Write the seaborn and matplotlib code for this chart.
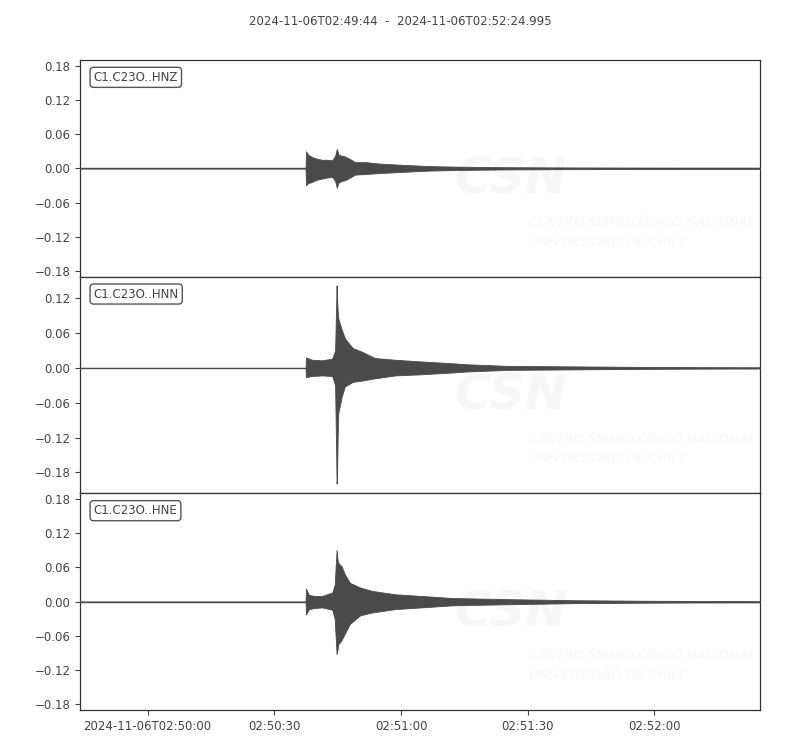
import numpy as np
import matplotlib
matplotlib.use("Agg")
from matplotlib import pyplot as plt
import seaborn as sns

# seconds after 2024-11-06T02:49:44, envelope
channels = ["C1.C23O..HNZ", "C1.C23O..HNN", "C1.C23O..HNE"]

hnz_t = [0, 53.4, 53.5, 54.0, 54.9, 56.0, 57.3, 58.5, 59.7, 60.4, 60.8, 61.2, 62.0, 62.7,
         64.0, 65.1, 67.5, 71.5, 76.9, 82.4, 88.8, 99.4, 113.6, 127.8, 145.0, 161.0]
hnz_up = [0, 0, 0.030, 0.024, 0.020, 0.017, 0.015, 0.015, 0.014, 0.022, 0.034, 0.024, 0.022,
          0.021, 0.016, 0.011, 0.011, 0.008, 0.006, 0.004, 0.003, 0.002, 0.0015, 0.0012, 0.001, 0.001]
hnz_lo = [0, 0, -0.030, -0.026, -0.024, -0.020, -0.018, -0.016, -0.015, -0.022, -0.034, -0.025,
          -0.022, -0.021, -0.016, -0.011, -0.010, -0.008, -0.006, -0.004, -0.003, -0.002, -0.0015,
          -0.0012, -0.001, -0.001]

hnn_t = [0, 53.4, 53.5, 54.9, 57.3, 59.7, 60.4, 60.75, 60.85, 61.0, 61.15, 61.95, 62.7, 63.9,
         64.6, 66.7, 69.8, 74.6, 80.9, 88.0, 91.1, 101.0, 116.7, 132.6, 146.8, 161.0]
hnn_up = [0, 0, 0.018, 0.014, 0.013, 0.016, 0.030, 0.142, 0.120, 0.100, 0.085, 0.066, 0.051,
          0.040, 0.034, 0.028, 0.017, 0.014, 0.011, 0.008, 0.0064, 0.0035, 0.0026, 0.0017, 0.0012, 0.001]
hnn_lo = [0, 0, -0.016, -0.014, -0.013, -0.014, -0.030, -0.199, -0.190, -0.120, -0.078, -0.050,
          -0.032, -0.027, -0.024, -0.022, -0.018, -0.013, -0.011, -0.008, -0.0064, -0.0035,
          -0.0026, -0.0017, -0.0012, -0.001]

hne_t = [0, 53.4, 53.5, 54.2, 55.5, 57.3, 59.7, 60.3, 60.75, 60.95, 61.15, 61.95, 62.7, 63.9,
         66.3, 69.1, 74.6, 80.9, 88.0, 91.1, 101.0, 116.7, 132.6, 146.8, 161.0]
hne_up = [0, 0, 0.023, 0.012, 0.010, 0.010, 0.016, 0.030, 0.091, 0.075, 0.068, 0.062, 0.048,
          0.033, 0.025, 0.019, 0.013, 0.010, 0.0065, 0.006, 0.0045, 0.0026, 0.0017, 0.0012, 0.001]
hne_lo = [0, 0, -0.0225, -0.013, -0.011, -0.010, -0.014, -0.030, -0.092, -0.085, -0.075, -0.067,
          -0.056, -0.039, -0.024, -0.019, -0.013, -0.010, -0.0065, -0.006, -0.0045, -0.0026,
          -0.0017, -0.0012, -0.001]

ylims = [(-0.19, 0.19), (-0.216, 0.157), (-0.19, 0.19)]
yticks = [[0.18, 0.12, 0.06, 0.0, -0.06, -0.12, -0.18],
          [0.12, 0.06, 0.0, -0.06, -0.12, -0.18],
          [0.18, 0.12, 0.06, 0.0, -0.06, -0.12, -0.18]]
xtick_pos = [16, 46, 76, 106, 136]
xtick_labels = ["2024-11-06T02:50:00", "02:50:30", "02:51:00", "02:51:30", "02:52:00"]
t_end = 160.995
title = "2024-11-06T02:49:44  -  2024-11-06T02:52:24.995"

sns.set_style("ticks")
plt.rcParams["font.family"] = ["DejaVu Sans"]
grey = "#444444"
plt.rcParams.update({"text.color": grey, "xtick.color": grey, "ytick.color": grey,
                     "axes.edgecolor": "#333333", "axes.labelcolor": grey})

fig, axes = plt.subplots(3, 1, figsize=(8, 7.5), sharex=True)
fig.subplots_adjust(left=0.1, right=0.95, top=0.92, bottom=0.0533, hspace=0)
data = [(hnz_t, hnz_up, hnz_lo), (hnn_t, hnn_up, hnn_lo), (hne_t, hne_up, hne_lo)]
wave = "#4a4a4a"
mark = "#f7f7f7"

for i, ax in enumerate(axes):
    t, up, lo = data[i]
    # faint watermark
    ax.text(0.55, 0.45, "CSN", transform=ax.transAxes, fontsize=36, fontweight="bold",
            fontstyle="italic", color=mark, ha="left", va="center", zorder=0, clip_on=True)
    ax.text(0.66, 0.25, "CENTRO SISMOLÓGICO NACIONAL", transform=ax.transAxes, fontsize=9.5,
            fontstyle="italic", color=mark, ha="left", va="center", zorder=0, clip_on=True)
    ax.text(0.66, 0.16, "UNIVERSIDAD DE CHILE", transform=ax.transAxes, fontsize=9.5,
            fontstyle="italic", color=mark, ha="left", va="center", zorder=0, clip_on=True)

    sns.lineplot(x=[0, t_end], y=[0, 0], ax=ax, color=wave, lw=1.0)
    ax.fill_between(t, lo, up, color=wave, lw=0.6, edgecolor=wave, zorder=3)

    ax.set_xlim(0, t_end)
    ax.set_ylim(*ylims[i])
    ax.set_yticks(yticks[i])
    ax.set_yticklabels([f"{v:.2f}".replace("-", "\u2212") for v in yticks[i]], fontsize=8.5)
    ax.set_ylabel("")
    ax.text(0.02, 0.92, channels[i], transform=ax.transAxes, fontsize=8.5, ha="left",
            va="center", color=grey,
            bbox=dict(boxstyle="round,pad=0.3", fc="white", ec="#555555", lw=1))
    for s in ax.spines.values():
        s.set_linewidth(0.9)
    if i < 2:
        ax.tick_params(axis="x", bottom=False, labelbottom=False)

axes[-1].set_xticks(xtick_pos)
axes[-1].set_xticklabels(xtick_labels, fontsize=8.5)
fig.suptitle(title, fontsize=8.5, y=0.98, color=grey)

fig.savefig("out.png", dpi=100)
